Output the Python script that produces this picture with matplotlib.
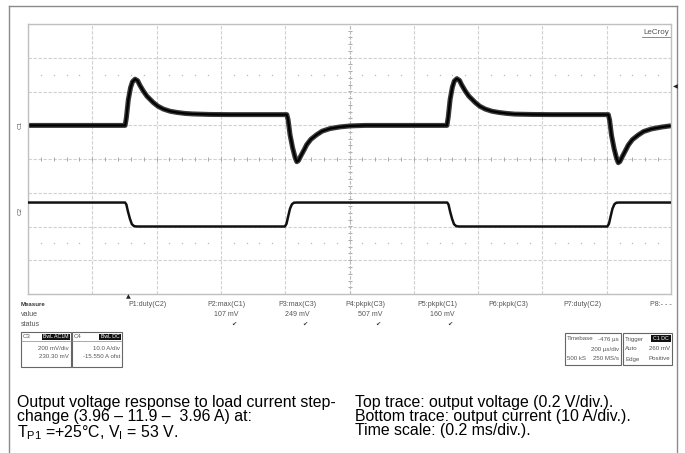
import numpy as np
import matplotlib
matplotlib.use("Agg")
import matplotlib.pyplot as plt
from matplotlib.patches import Rectangle
from matplotlib.lines import Line2D

plt.rcParams['font.family'] = ['Liberation Sans', 'DejaVu Sans']
plt.rcParams['mathtext.fontset'] = 'custom'
plt.rcParams['mathtext.rm'] = 'Liberation Sans'

# ---------------- data ----------------
# top trace: output voltage, volts relative to screen centre (0.2 V/div)
v_time_ms = [0.000, 0.302, 0.306, 0.312, 0.319, 0.325, 0.333, 0.341, 0.348, 0.359,
             0.370, 0.390, 0.404, 0.421, 0.442, 0.463, 0.488, 0.513, 0.566, 0.628,
             0.805, 0.809, 0.815, 0.823, 0.831, 0.836, 0.841, 0.849, 0.859, 0.867,
             0.880, 0.898, 0.915, 0.939, 0.970, 1.002, 1.048,
             1.303, 1.307, 1.313, 1.320, 1.326, 1.334, 1.342, 1.349, 1.360,
             1.371, 1.391, 1.405, 1.422, 1.443, 1.464, 1.489, 1.514, 1.567, 1.629,
             1.805, 1.809, 1.815, 1.823, 1.831, 1.836, 1.841, 1.849, 1.859, 1.867,
             1.880, 1.898, 1.915, 1.939, 1.970, 2.000]
v_out = [0.199, 0.199, 0.245, 0.351, 0.423, 0.458, 0.473, 0.464, 0.437, 0.402,
         0.372, 0.334, 0.313, 0.296, 0.283, 0.276, 0.270, 0.267, 0.264, 0.263,
         0.263, 0.233, 0.144, 0.067, 0.008, -0.016, -0.010, 0.020, 0.055, 0.085,
         0.117, 0.144, 0.165, 0.180, 0.190, 0.196, 0.199,
         0.199, 0.247, 0.353, 0.426, 0.462, 0.476, 0.466, 0.439, 0.403,
         0.373, 0.335, 0.313, 0.296, 0.283, 0.276, 0.270, 0.266, 0.264, 0.263,
         0.263, 0.231, 0.140, 0.062, 0.002, -0.022, -0.015, 0.016, 0.052, 0.082,
         0.115, 0.142, 0.163, 0.178, 0.189, 0.197]

# bottom trace: output current, amps relative to screen centre (10 A/div, inverted)
i_time_ms = [0.000, 0.302, 0.306, 0.311, 0.317, 0.323, 0.330, 0.339,
             0.799, 0.804, 0.809, 0.815, 0.821, 0.827, 0.837,
             1.304, 1.308, 1.313, 1.319, 1.325, 1.332, 1.341,
             1.802, 1.807, 1.812, 1.818, 1.824, 1.830, 1.840, 2.000]
i_out = [-12.9, -12.9, -13.5, -15.6, -17.7, -19.3, -19.9, -20.0,
         -20.0, -19.2, -17.1, -14.7, -13.4, -12.95, -12.9,
         -12.9, -13.5, -15.6, -17.7, -19.3, -19.9, -20.0,
         -20.0, -19.2, -17.1, -14.7, -13.4, -12.95, -12.9, -12.9]

meas_labels = ["P1:duty(C2)", "P2:max(C1)", "P3:max(C3)", "P4:pkpk(C3)",
               "P5:pkpk(C1)", "P6:pkpk(C3)", "P7:duty(C2)", "P8:- - -"]
meas_values = ["", "107 mV", "249 mV", "507 mV", "160 mV", "", "", ""]
meas_status = [False, True, True, True, True, False, False, False]

caption_left = ["Output voltage response to load current step-",
                "change (3.96 \u2013 11.9 \u2013  3.96 A) at:",
                "T$_{\\mathrm{P1}}$ =+25\u00b0C, V$_{\\mathrm{I}}$ = 53 V."]
caption_right = ["Top trace: output voltage (0.2 V/div.).",
                 "Bottom trace: output current (10 A/div.).",
                 "Time scale: (0.2 ms/div.)."]

# ---------------- figure ----------------
W, H = 685, 453
fig = plt.figure(figsize=(W / 100, H / 100), dpi=100)
fig.patch.set_facecolor('white')

def fx(x):
    return x / W

def fy(y):
    return 1 - y / H

# outer frame
for xs, ys in [([9, 9], [6, 453]), ([677, 677], [6, 453]), ([9, 677], [6, 6])]:
    fig.add_artist(Line2D([fx(v) for v in xs], [fy(v) for v in ys],
                          color='#8a8a8a', lw=1.0))

ax = fig.add_axes([fx(28), fy(294), (671 - 28) / W, (294 - 24) / H])
ax.set_xlim(0, 2.0)
ax.set_ylim(-0.8, 0.8)
ax.set_xticks(np.arange(0, 2.001, 0.2))
ax.set_yticks(np.arange(-0.8, 0.801, 0.2))
ax.grid(True, color='#d0d0d0', lw=0.8, ls=(0, (3, 1.5)))
ax.tick_params(length=0, labelleft=False, labelbottom=False)
for s in ax.spines.values():
    s.set_color('#c0c0c0')
    s.set_linewidth(1.0)

# centre-line ticks and dot rows (graticule decoration)
tk = np.arange(0, 2.0001, 0.04)
ax.plot(tk, np.zeros_like(tk), ls='none', marker='|', ms=3, mew=0.7, color='#a8a8a8')
vk = np.arange(-0.8, 0.8001, 0.04)
ax.plot(np.full_like(vk, 1.0), vk, ls='none', marker='_', ms=3, mew=0.7, color='#a8a8a8')
dots = np.array([t for t in tk if abs(t / 0.2 - round(t / 0.2)) > 1e-6])
for lvl in (0.5, -0.5):
    ax.plot(dots, np.full_like(dots, lvl), ls='none', marker='s', ms=0.9,
            color='#b8b8b8', mew=0)
ax.axvline(1.0, color='#bdbdbd', lw=0.8, ls=(0, (3, 1.5)))

# traces
ax.plot(v_time_ms, v_out, color='#3a3a3a', lw=3.6, solid_joinstyle='round',
        solid_capstyle='butt')
ax.plot(v_time_ms, v_out, color='#000000', lw=1.6, solid_joinstyle='round')

ax2 = ax.twinx()
ax2.set_ylim(-40, 40)
ax2.tick_params(length=0, labelright=False)
for s in ax2.spines.values():
    s.set_visible(False)
ax2.plot(i_time_ms, i_out, color='#111111', lw=1.8, solid_joinstyle='round')

# scope annotations
small = dict(fontsize=5.1, color='#555555')
tiny = dict(fontsize=4.4, color='#555555')
fig.text(fx(20), fy(125), "C1", rotation=90, ha='center', va='center', fontsize=4.6,
         color='#555555')
fig.text(fx(20), fy(211), "C2", rotation=90, ha='center', va='center', fontsize=4.6,
         color='#555555')
fig.text(fx(128), fy(297), "\u25b2", ha='center', va='center', fontsize=4.5,
         color='#222222', family='DejaVu Sans')
fig.text(fx(675), fy(87), "\u25c0", ha='center', va='center', fontsize=4.5,
         color='#222222', family='DejaVu Sans')
fig.text(fx(656), fy(32), "LeCroy", ha='center', va='center', fontsize=5.8,
         color='#555555')
fig.add_artist(Line2D([fx(642), fx(670)], [fy(37), fy(37)], color='#777777', lw=0.6))

# measure area
fig.text(fx(21), fy(305), "Measure", ha='left', va='center', fontsize=4.4,
         fontweight='bold', color='#333333')
fig.text(fx(21), fy(315), "value", ha='left', va='center', **small)
fig.text(fx(21), fy(324), "status", ha='left', va='center', **small)

meas_left = [128, 207, 278, 345, 417, 488, 563, 650]
meas_right = [166, 239, 310, 383, 455, 527, 600, 672]
for lab, val, st, xl, xr in zip(meas_labels, meas_values, meas_status,
                                meas_left, meas_right):
    fig.text(fx(xl), fy(305), lab, ha='left', va='center', **small)
    if val:
        fig.text(fx(xr), fy(315), val, ha='right', va='center', **small)
    if st:
        fig.text(fx(xr - 5), fy(324), "\u2714", ha='center', va='center',
                 fontsize=4.5, color='#333333', family='DejaVu Sans')

def box(x0, y0, x1, y1):
    fig.add_artist(Rectangle((fx(x0), fy(y1)), (x1 - x0) / W, (y1 - y0) / H,
                             transform=fig.transFigure, fill=False,
                             ec='#666666', lw=0.8))

def blk(x0, y0, x1, y1, text):
    fig.add_artist(Rectangle((fx(x0), fy(y1)), (x1 - x0) / W, (y1 - y0) / H,
                             transform=fig.transFigure, fc='#111111', ec='none'))
    fig.text(fx((x0 + x1) / 2), fy((y0 + y1) / 2), text, ha='center',
             va='center', fontsize=3.8, color='white')

box(21, 332, 71, 367)
fig.add_artist(Line2D([fx(21), fx(71)], [fy(341), fy(341)], color='#888888', lw=0.5))
fig.text(fx(23), fy(336.5), "C3", ha='left', va='center', **tiny)
blk(42, 333.5, 70, 340, "BwL AC1M")
fig.text(fx(69), fy(348), "200 mV/div", ha='right', va='center', **tiny)
fig.text(fx(69), fy(357), "230.30 mV", ha='right', va='center', **tiny)

box(72, 332, 122, 367)
fig.add_artist(Line2D([fx(72), fx(122)], [fy(341), fy(341)], color='#888888', lw=0.5))
fig.text(fx(74), fy(336.5), "C4", ha='left', va='center', **tiny)
blk(99, 333.5, 121, 340, "BwL DC")
fig.text(fx(120), fy(348), "10.0 A/div", ha='right', va='center', **tiny)
fig.text(fx(120), fy(357), "-15.550 A ofst", ha='right', va='center', **tiny)

box(565, 333, 621, 365)
fig.text(fx(567), fy(339), "Timebase", ha='left', va='center', **tiny)
fig.text(fx(619), fy(339), "-476 \u00b5s", ha='right', va='center', **tiny)
fig.text(fx(619), fy(349), "200 \u00b5s/div", ha='right', va='center', **tiny)
fig.text(fx(567), fy(359), "500 kS", ha='left', va='center', **tiny)
fig.text(fx(619), fy(359), "250 MS/s", ha='right', va='center', **tiny)

box(623, 333, 672, 365)
fig.text(fx(625), fy(339), "Trigger", ha='left', va='center', **tiny)
blk(651, 334.5, 671, 342, "C1 DC")
fig.text(fx(625), fy(349), "Auto", ha='left', va='center', **tiny)
fig.text(fx(670), fy(349), "260 mV", ha='right', va='center', **tiny)
fig.text(fx(625), fy(359), "Edge", ha='left', va='center', **tiny)
fig.text(fx(670), fy(359), "Positive", ha='right', va='center', **tiny)

# caption (one multi-line text per column)
fig.text(fx(17), fy(395), "\n".join(caption_left), ha='left', va='top',
         fontsize=11.4, color='black', linespacing=0.93)
fig.text(fx(355), fy(395), "\n".join(caption_right), ha='left', va='top',
         fontsize=11.4, color='black', linespacing=0.93)

fig.savefig("out.png", dpi=100, facecolor='white')
